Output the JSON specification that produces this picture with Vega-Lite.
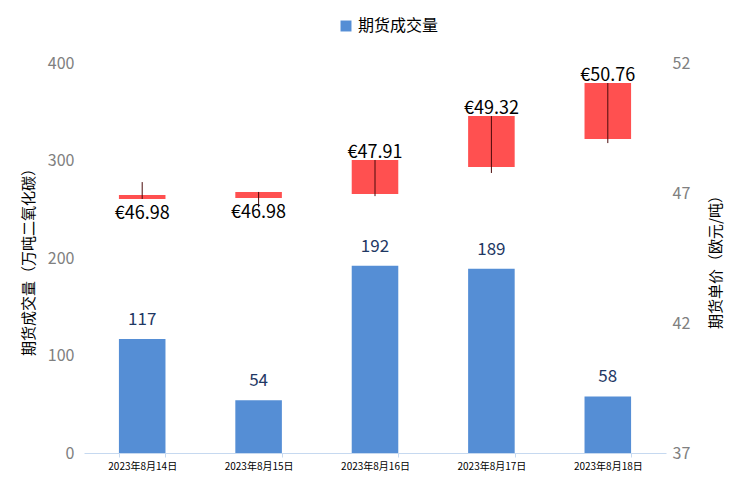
{
  "$schema": "https://vega.github.io/schema/vega-lite/v6.json",
  "autosize": "none",
  "width": 582,
  "height": 390,
  "padding": {"left": 84, "top": 63, "right": 78, "bottom": 30},
  "background": "white",
  "config": {
    "view": {"stroke": null},
    "font": "Noto Sans CJK SC",
    "axis": {"grid": false, "labelFont": "Noto Sans CJK SC", "titleFont": "Noto Sans CJK SC"}
  },
  "data": {
    "values": [
      {"date": "2023年8月14日", "volume": 117, "open": 46.92, "close": 46.77, "high": 47.42, "low": 46.77, "priceLabel": "€46.98", "pos": "below"},
      {"date": "2023年8月15日", "volume": 54, "open": 47.04, "close": 46.81, "high": 47.04, "low": 46.45, "priceLabel": "€46.98", "pos": "below"},
      {"date": "2023年8月16日", "volume": 192, "open": 46.96, "close": 48.27, "high": 48.27, "low": 46.88, "priceLabel": "€47.91", "pos": "above"},
      {"date": "2023年8月17日", "volume": 189, "open": 48.0, "close": 49.96, "high": 49.96, "low": 47.77, "priceLabel": "€49.32", "pos": "above"},
      {"date": "2023年8月18日", "volume": 58, "open": 49.08, "close": 51.23, "high": 51.23, "low": 48.92, "priceLabel": "€50.76", "pos": "above"}
    ]
  },
  "encoding": {
    "x": {
      "field": "date", "type": "nominal", "sort": null,
      "scale": {"paddingInner": 0.6, "paddingOuter": 0.3},
      "axis": {
        "title": null, "labelAngle": 0, "labelFontSize": 10, "labelColor": "#000000",
        "domainColor": "#C6D9F0", "tickColor": "#C6D9F0", "tickBand": "extent", "tickSize": 4,
        "labelPadding": 4
      }
    }
  },
  "layer": [
    {
      "layer": [
        {
          "mark": {"type": "bar", "color": "#558ED5"},
          "encoding": {
            "y": {
              "field": "volume", "type": "quantitative",
              "scale": {"domain": [0, 400], "nice": false},
              "axis": {
                "orient": "left", "values": [0, 100, 200, 300, 400], "domain": false, "ticks": false,
                "labelPadding": 10, "labelFontSize": 16, "labelColor": "#808080",
                "title": "期货成交量（万吨二氧化碳）", "titleFontSize": 15, "titleFontWeight": "normal",
                "titleColor": "#000000", "titlePadding": 11
              }
            },
            "color": {
              "datum": "期货成交量",
              "scale": {"range": ["#558ED5"]},
              "legend": {
                "title": null, "orient": "none", "legendX": 254, "legendY": -45,
                "symbolType": "square", "symbolSize": 120, "labelFontSize": 16, "labelColor": "#000000",
                "labelFont": "Noto Sans CJK SC"
              }
            }
          }
        },
        {
          "mark": {"type": "text", "baseline": "bottom", "dy": -10, "fontSize": 17, "color": "#1F3864"},
          "encoding": {
            "y": {"field": "volume", "type": "quantitative"},
            "text": {"field": "volume", "type": "quantitative"}
          }
        }
      ]
    },
    {
      "layer": [
        {
          "mark": {"type": "bar", "color": "#FF5050"},
          "encoding": {
            "y": {
              "field": "open", "type": "quantitative",
              "scale": {"domain": [37, 52], "nice": false, "zero": false},
              "axis": {
                "orient": "right", "values": [37, 42, 47, 52], "domain": false, "ticks": false,
                "labelPadding": 6, "labelFontSize": 16, "labelColor": "#808080",
                "title": "期货单价（欧元/吨）", "titleFontSize": 15, "titleFontWeight": "normal",
                "titleColor": "#000000", "titlePadding": 34, "titleAngle": -90
              }
            },
            "y2": {"field": "close"}
          }
        },
        {
          "mark": {"type": "rule", "color": "#4a0a0a", "strokeWidth": 1},
          "encoding": {
            "y": {"field": "low", "type": "quantitative"},
            "y2": {"field": "high"}
          }
        },
        {
          "transform": [{"filter": "datum.pos === 'above'"}],
          "mark": {"type": "text", "baseline": "alphabetic", "dy": -2, "fontSize": 18, "color": "#000000"},
          "encoding": {
            "y": {"field": "high", "type": "quantitative"},
            "text": {"field": "priceLabel", "type": "nominal"}
          }
        },
        {
          "transform": [{"filter": "datum.pos === 'below'"}],
          "mark": {"type": "text", "baseline": "top", "dy": 6, "fontSize": 18, "color": "#000000"},
          "encoding": {
            "y": {"field": "close", "type": "quantitative"},
            "text": {"field": "priceLabel", "type": "nominal"}
          }
        }
      ]
    }
  ],
  "resolve": {"scale": {"y": "independent"}}
}
